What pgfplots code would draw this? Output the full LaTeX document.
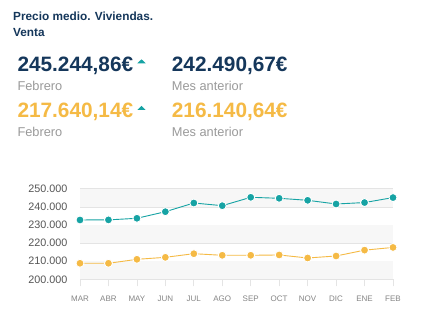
\documentclass[border=0pt]{standalone}
\usepackage{fontspec}
\setmainfont{Liberation Sans}
\usepackage{pgfplots}
\pgfplotsset{compat=1.18}
\definecolor{navy}{HTML}{15375B}
\definecolor{tealc}{HTML}{16A3A4}
\definecolor{yell}{HTML}{F5BA45}
\definecolor{lblgray}{HTML}{9A9A9A}
\definecolor{tickgray}{HTML}{555555}
\definecolor{xgray}{HTML}{858585}
\definecolor{band}{HTML}{F7F7F7}
\definecolor{gridc}{HTML}{E4E4E4}
\begin{document}
\begin{tikzpicture}
\fill[white] (0pt,0pt) rectangle (437pt,-323pt);
% header texts
\node[anchor=base west,inner sep=0,text=navy,font=\fontsize{11.8}{13}\selectfont\bfseries] at (13pt,-20.7pt) {Precio medio. Viviendas.};
\node[anchor=base west,inner sep=0,text=navy,font=\fontsize{11.8}{13}\selectfont\bfseries] at (13pt,-36.7pt) {Venta};
\node[anchor=base west,inner sep=0,text=navy,font=\fontsize{20.8}{22}\selectfont\bfseries] at (17.3pt,-71.7pt) {245.244,86€};
\node[anchor=base west,inner sep=0,text=navy,font=\fontsize{20.8}{22}\selectfont\bfseries] at (171.7pt,-71.7pt) {242.490,67€};
\node[anchor=base west,inner sep=0,text=lblgray,font=\fontsize{12.8}{14}\selectfont] at (17.3pt,-90.7pt) {Febrero};
\node[anchor=base west,inner sep=0,text=lblgray,font=\fontsize{12.8}{14}\selectfont] at (171.7pt,-90.7pt) {Mes anterior};
\node[anchor=base west,inner sep=0,text=yell,font=\fontsize{20.8}{22}\selectfont\bfseries] at (17.3pt,-117.3pt) {217.640,14€};
\node[anchor=base west,inner sep=0,text=yell,font=\fontsize{20.8}{22}\selectfont\bfseries] at (171.7pt,-117.3pt) {216.140,64€};
\node[anchor=base west,inner sep=0,text=lblgray,font=\fontsize{12.8}{14}\selectfont] at (17.3pt,-136.3pt) {Febrero};
\node[anchor=base west,inner sep=0,text=lblgray,font=\fontsize{12.8}{14}\selectfont] at (171.7pt,-136.3pt) {Mes anterior};
\fill[tealc] (137.3pt,-63.3pt) -- (145.7pt,-63.3pt) -- (141.5pt,-59.3pt) -- cycle;
\fill[tealc] (137.3pt,-110pt) -- (145.7pt,-110pt) -- (141.5pt,-106pt) -- cycle;
\begin{axis}[
  at={(80pt,-279.3pt)}, anchor=south west,
  scale only axis, width=313pt, height=90.3pt,
  xmin=0, xmax=11, ymin=200000, ymax=250000,
  clip=false,
  axis line style={draw=none},
  xtick={0,...,11},
  xticklabels={MAR,ABR,MAY,JUN,JUL,AGO,SEP,OCT,NOV,DIC,ENE,FEB},
  ytick={200000,210000,220000,230000,240000,250000},
  scaled y ticks=false,
  /pgf/number format/.cd, 1000 sep={.}, fixed, assume math mode=true,
  /pgfplots/.cd,
  ymajorgrids, grid style={draw=gridc, line width=1.2pt},
  tick pos=bottom, tick align=outside,
  xtick style={draw=gridc, line width=0.8pt},
  major tick length=7pt,
  ytick style={draw=none},
  yticklabel style={text=tickgray, font=\fontsize{10.8}{12}\selectfont, xshift=-2pt},
  xticklabel style={text=xgray, font=\fontsize{8}{9}\selectfont, yshift=-6pt},
]
\fill[band] (axis cs:0,240000) rectangle (axis cs:11,250000);
\fill[band] (axis cs:0,220000) rectangle (axis cs:11,230000);
\fill[band] (axis cs:0,200000) rectangle (axis cs:11,210000);
\addplot[color=tealc, line width=0.9pt, mark=*, mark size=4pt,
  mark options={fill=tealc, draw=white, line width=0.9pt}]
  coordinates {(0,232850) (1,232900) (2,233780) (3,237430) (4,242250) (5,240760)
  (6,245400) (7,244850) (8,243740) (9,241700) (10,242490.67) (11,245244.86)};
\addplot[color=yell, line width=0.9pt, mark=*, mark size=4pt,
  mark options={fill=yell, draw=white, line width=0.9pt}]
  coordinates {(0,208860) (1,208860) (2,211060) (3,212170) (4,214180) (5,213290)
  (6,213290) (7,213470) (8,211800) (9,212900) (10,216140.64) (11,217640.14)};
\end{axis}
\end{tikzpicture}
\end{document}
